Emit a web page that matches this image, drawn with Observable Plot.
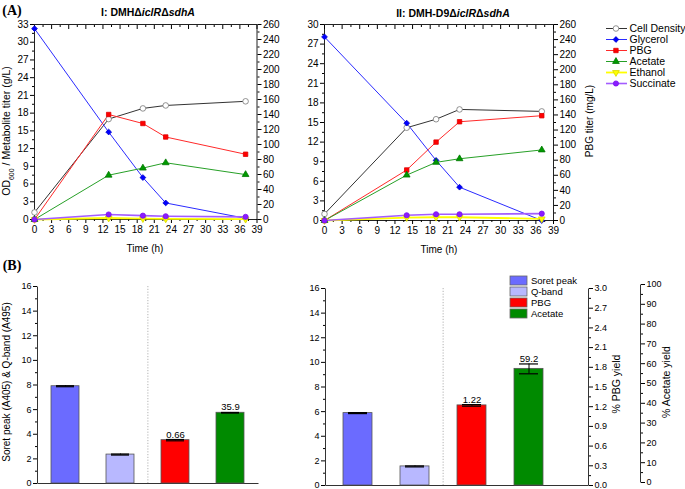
<!DOCTYPE html>
<html><head><meta charset="utf-8">
<script src="https://cdn.jsdelivr.net/npm/d3@7"></script>
<script src="https://cdn.jsdelivr.net/npm/@observablehq/plot@0.6"></script>
<style>
body{margin:0;background:#fff;font-family:"Liberation Sans",Arial,sans-serif;}
#root{position:relative;width:685px;height:489px;overflow:hidden;background:#fff;}
.lbl{position:absolute;white-space:nowrap;color:#000;line-height:1;}
svg{position:absolute;overflow:visible;}
</style></head><body><div id="root"></div>
<script>
// ---------- DATA ----------
const seriesNames = ["Cell Density", "Glycerol", "PBG", "Acetate", "Ethanol", "Succinate"];
const timeI  = [0, 13, 19, 23, 37];
const timeII = [0, 14, 19, 23, 37];
// panel I (g/L; OD600; PBG in mg/L)
const cellI      = [1.2, 17.0, 18.8, 19.3, 20.0];
const glycerolI  = [32.3, 14.8, 7.1, 2.8, 0.2];
const pbgI       = [0, 140, 128, 110, 87];
const acetateI   = [0, 7.5, 8.7, 9.6, 7.6];
const ethanolI   = [0, 0.25, 0.15, 0.1, 0.05];
const succinateI = [0, 0.85, 0.65, 0.55, 0.45];
// panel II
const cellII      = [1.0, 14.2, 15.5, 17.0, 16.7];
const glycerolII  = [28.1, 14.9, 9.2, 5.1, 0];
const pbgII       = [0, 67, 104, 131, 139];
const acetateII   = [0, 6.95, 8.9, 9.45, 10.8];
const ethanolII   = [0, 0.45, 0.5, 0.5, 0.25];
const succinateII = [0, 0.8, 0.95, 0.95, 1.05];
// panel B
const barNames = ["Soret peak", "Q-band", "PBG", "Acetate"];
const soret = [7.9, 5.88];
const soretErr = [0.04, 0.04];
const qband = [2.35, 1.55];
const qbandErr = [0.04, 0.04];
const pbgYield = [0.66, 1.22];          // %
const pbgYieldErr = [0.01, 0.012];
const acetateYield = [35.9, 59.2];      // %
const acetateYieldErr = [0.15, 2.5];
// tick labels
const xTicksA = d3.range(0, 40, 3);
const pbgTiterTicks = d3.range(0, 261, 20);
const bTicks = d3.range(0, 17, 2);
const pbgYieldTicks = d3.range(0, 3.01, 0.3);
const acetateYieldTicks = d3.range(0, 101, 10);

// ---------- STYLE ----------
const lineColors = ["#333333", "#2b2bff", "#ff2a2a", "#27a027", "#ffff00", "#a35cff"];
const lineWidths = [1, 1, 1, 1, 1.8, 1.6];
const dotFill = ["#ffffff", "#0000ff", "#ff0000", "#009900", "#ffff00", "#8a1cff"];
const dotStroke = ["#777777", "#0000cc", "#dd0000", "#007700", "#d8d800", "#7a10ee"];
const triDown = {draw(c, size) { const s3 = Math.sqrt(3); const y = -Math.sqrt(size / (s3 * 3)); c.moveTo(0, -y * 2); c.lineTo(-s3 * y, y); c.lineTo(s3 * y, y); c.closePath(); }};
const dotSymbols = ["circle", "diamond2", "square", "triangle", triDown, "circle"];
const dotR = [2.8, 2.6, 2.5, 2.5, 2.5, 2.6];
const barColors = ["#6b6bff", "#b8b8ff", "#ff0000", "#008a00"];
const fontFam = "'Liberation Sans', Arial, sans-serif";
const baseStyle = {fontFamily: fontFam, fontSize: "10px", background: "transparent", color: "#000"};

const root = document.getElementById("root");
function place(svg, left, top) { svg.style.left = left + "px"; svg.style.top = top + "px"; root.appendChild(svg); }
function label(html, x, y, o = {}) {
  const d = document.createElement("div");
  d.className = "lbl"; d.innerHTML = html;
  d.style.left = x + "px"; d.style.top = y + "px";
  d.style.transform = o.rot ? "translate(-50%,-50%) rotate(-90deg)" : "translate(-50%,-50%)";
  d.style.fontSize = (o.size || 10) + "px";
  if (o.bold) d.style.fontWeight = "bold";
  if (o.family) d.style.fontFamily = o.family;
  root.appendChild(d);
}

// ---------- PANEL A ----------
function panelA(time, series, yMax, width, height, mL, mR, mT, mB) {
  const k = yMax / 260;
  const marks = [
    Plot.frame({stroke: "#222"}),
    Plot.axisX({ticks: xTicksA, tickSize: 4, tickPadding: 2, label: null, fontSize: 10}),
    Plot.axisX({ticks: d3.range(1.5, 39, 3), tickSize: 2, tickFormat: () => "", label: null}),
    Plot.axisX({anchor: "top", ticks: xTicksA, tickSize: -4, tickFormat: () => "", label: null}),
    Plot.axisX({anchor: "top", ticks: d3.range(1.5, 39, 3), tickSize: -2, tickFormat: () => "", label: null}),
    Plot.axisY({ticks: d3.range(0, yMax + 0.1, 3), tickSize: 4, tickPadding: 2, label: null, fontSize: 10}),
    Plot.axisY({ticks: d3.range(1.5, yMax, 3), tickSize: 2, tickFormat: () => "", label: null}),
    Plot.axisY({anchor: "right", ticks: pbgTiterTicks.map(v => v * k), tickFormat: v => Math.round(v / k), tickSize: 4, tickPadding: 2, label: null, fontSize: 10}),
    Plot.axisY({anchor: "right", ticks: d3.range(10, 260, 20).map(v => v * k), tickSize: 2, tickFormat: () => "", label: null})
  ];
  const rowsBy = seriesNames.map((name, i) => time.map((t, j) => ({t, v: name === "PBG" ? series[i][j] * k : series[i][j]})));
  seriesNames.forEach((name, i) => marks.push(Plot.line(rowsBy[i], {x: "t", y: "v", stroke: lineColors[i], strokeWidth: lineWidths[i]})));
  seriesNames.forEach((name, i) => marks.push(Plot.dot(rowsBy[i], {x: "t", y: "v", symbol: dotSymbols[i], r: dotR[i], fill: dotFill[i], stroke: dotStroke[i], strokeWidth: 0.8})));
  return Plot.plot({width, height, marginLeft: mL, marginRight: mR, marginTop: mT, marginBottom: mB,
    x: {domain: [0, 39]}, y: {domain: [0, yMax]}, style: baseStyle, marks});
}

place(panelA(timeI, [cellI, glycerolI, pbgI, acetateI, ethanolI, succinateI], 33, 300, 262, 34, 43.5, 24, 43), 0, 0);
place(panelA(timeII, [cellII, glycerolII, pbgII, acetateII, ethanolII, succinateII], 30, 310, 262, 34, 47, 24, 42), 290, 0);

// legend A
{
  const marks = [];
  seriesNames.forEach((name, i) => {
    marks.push(Plot.ruleY([name], {y: d => d, x1: 0, x2: 1, stroke: lineColors[i], strokeWidth: lineWidths[i]}));
    marks.push(Plot.dot([name], {y: d => d, x: 0.45, symbol: dotSymbols[i], r: dotR[i], fill: dotFill[i], stroke: dotStroke[i], strokeWidth: 0.8}));
  });
  marks.push(Plot.text(seriesNames, {y: d => d, x: 1, text: d => d, dx: 2, textAnchor: "start", fontSize: 10.5}));
  place(Plot.plot({width: 85, height: 90, margin: 0, x: {domain: [0, 1], range: [6, 27], axis: null},
    y: {type: "point", domain: seriesNames, range: [9, 78], axis: null}, style: baseStyle, marks}), 600, 12);
}

// ---------- PANEL B ----------
function panelB(idx, width, height, mL, mR, mT, mB, xRange, rightAxis) {
  const f = 16;
  const rows = [
    {c: "Soret peak", y: soret[idx], e: soretErr[idx]},
    {c: "Q-band", y: qband[idx], e: qbandErr[idx]},
    {c: "PBG", y: pbgYield[idx] * f / 3, e: pbgYieldErr[idx] * f / 3, label: d3.format(".2f")(pbgYield[idx])},
    {c: "Acetate", y: acetateYield[idx] * f / 100, e: acetateYieldErr[idx] * f / 100, label: d3.format(".1f")(acetateYield[idx])}
  ];
  const w = width - mL - mR, h = height - mT - mB;
  const step = (xRange[1] - xRange[0]) / 4;
  const marks = [
    Plot.frame({stroke: "#333", strokeDasharray: rightAxis ? `0 ${w} ${2 * h + w}` : `0 ${w + h} ${w + h}`}),
    Plot.ruleX(["PBG"], {x: d => d, dx: -step / 2, stroke: "#a0a0a0", strokeDasharray: "1.2,1.6", strokeWidth: 0.8}),
    Plot.barY(rows, {x: "c", y: "y", fill: "c", stroke: "#555", strokeWidth: 0.8}),
    Plot.ruleX(rows, {x: "c", y1: d => d.y - d.e, y2: d => d.y + d.e, stroke: "#000"}),
    Plot.tickY(rows, {x: "c", y: d => d.y + d.e, stroke: "#000", strokeWidth: 1.2, insetLeft: 5, insetRight: 5}),
    Plot.tickY(rows, {x: "c", y: d => d.y - d.e, stroke: "#000", strokeWidth: 1.2, insetLeft: 5, insetRight: 5}),
    Plot.text(rows.filter(d => d.label), {x: "c", y: d => d.y + d.e, text: "label", dy: -2, lineAnchor: "bottom", fontSize: 9.5}),
    Plot.axisY({ticks: bTicks, tickSize: 4, tickPadding: 2, label: null, fontSize: 9}),
    Plot.axisY({ticks: d3.range(1, 16, 2), tickSize: 2, tickFormat: () => "", label: null})
  ];
  if (rightAxis) {
    marks.push(Plot.axisY({anchor: "right", ticks: pbgYieldTicks.map(v => v * f / 3), tickFormat: v => d3.format(".1f")(v * 3 / f), tickSize: 4, tickPadding: 2, label: null, fontSize: 9}));
    marks.push(Plot.axisY({anchor: "right", ticks: d3.range(0.15, 3, 0.3).map(v => v * f / 3), tickSize: 2, tickFormat: () => "", label: null}));
  }
  return Plot.plot({width, height, marginLeft: mL, marginRight: mR, marginTop: mT, marginBottom: mB,
    x: {type: "band", domain: barNames, range: xRange, paddingInner: 0.5, paddingOuter: 0.25, axis: null},
    y: {domain: [0, 16]}, color: {domain: barNames, range: barColors}, style: baseStyle, marks});
}
place(panelB(0, 270, 219, 37, 12, 16, 6, [37, 258], false), 0, 270);
place(panelB(1, 300, 219, 25, 12, 18, 4, [27, 258], true), 300, 270);

// acetate yield axis
{
  const w = 40, h = 219 - 14 - 7;
  place(Plot.plot({width: 85, height: 219, marginLeft: 0, marginRight: 45, marginTop: 14, marginBottom: 7,
    y: {domain: [0, 100]}, style: baseStyle, marks: [
      Plot.frame({stroke: "#333", strokeDasharray: `0 ${w} ${h} ${w + h}`}),
      Plot.axisY({anchor: "right", ticks: acetateYieldTicks, tickSize: 4, tickPadding: 2, label: null, fontSize: 9}),
      Plot.axisY({anchor: "right", ticks: d3.range(5, 100, 10), tickSize: 2, tickFormat: () => "", label: null})
    ]}), 600, 270);
}

// legend B
place(Plot.plot({width: 110, height: 50, margin: 0,
  x: {type: "band", domain: ["k"], range: [5, 22], padding: 0, axis: null},
  y: {type: "band", domain: barNames, range: [1, 49], padding: 0.15, axis: null},
  color: {domain: barNames, range: barColors}, style: baseStyle,
  marks: [
    Plot.cell(barNames, {x: () => "k", y: d => d, fill: d => d, stroke: "#666", strokeWidth: 0.8}),
    Plot.text(barNames, {x: () => "k", y: d => d, text: d => d, dx: 12, textAnchor: "start", fontSize: 9.5})
  ]}), 505, 272);

// ---------- TEXT ----------
label("(A)", 12, 11, {bold: true, size: 14, family: "'Liberation Serif', 'Times New Roman', serif"});
label("(B)", 12, 266, {bold: true, size: 14, family: "'Liberation Serif', 'Times New Roman', serif"});
label("I: DMHΔ<i>iclR</i>Δ<i>sdhA</i>", 148, 12, {bold: true, size: 10.5});
label("II: DMH-D9Δ<i>iclR</i>Δ<i>sdhA</i>", 453, 13, {bold: true, size: 10.5});
label("Time (h)", 145, 249, {size: 10});
label("Time (h)", 439, 250, {size: 10});
label("OD<sub style='font-size:7px'>600</sub> / Metabolite titer (g/L)", 8, 131, {rot: true, size: 10.5});
label("PBG titer (mg/L)", 590, 121, {rot: true, size: 10});
label("Soret peak (A405) &amp; Q-band (A495)", 7, 382, {rot: true, size: 10});
label("% PBG yield", 616, 384, {rot: true, size: 10.5});
label("% Acetate yield", 666, 382, {rot: true, size: 10.5});
</script></body></html>
